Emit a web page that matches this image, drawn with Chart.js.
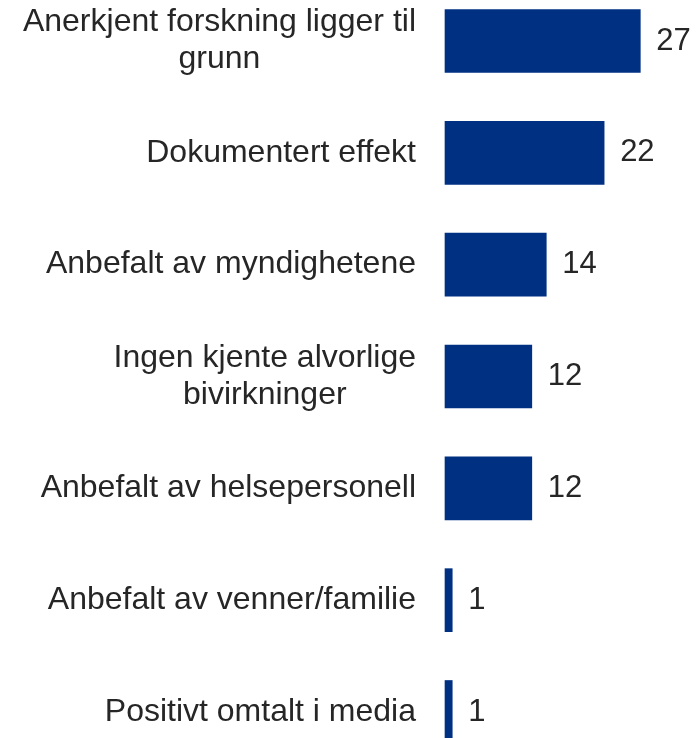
<!DOCTYPE html>
<html>
<head>
<meta charset="utf-8">
<script src="https://cdn.jsdelivr.net/npm/chart.js@4"></script>
<style>
  html, body { margin: 0; padding: 0; background: #fff; }
  #wrap { width: 700px; height: 738px; }
</style>
</head>
<body>
<div id="wrap"><canvas id="canvas"></canvas></div>
<script>
// data
const labels = [
  ["Anerkjent forskning ligger til", "grunn"],
  ["Dokumentert effekt"],
  ["Anbefalt av myndighetene"],
  ["Ingen kjente alvorlige", "bivirkninger"],
  ["Anbefalt av helsepersonell"],
  ["Anbefalt av venner/familie"],
  ["Positivt omtalt i media"],
];
const values = [27, 22, 14, 12, 12, 1, 1];

const FONT = "'Liberation Sans', Arial, sans-serif";
const TEXT = "#262626";

// draws category labels (right aligned block, centered lines) and value labels
const labelPlugin = {
  id: "labelPlugin",
  afterDatasetsDraw(chart) {
    const ctx = chart.ctx;
    const yScale = chart.scales.y;
    const meta = chart.getDatasetMeta(0);
    const right = chart.chartArea.left - 29;
    const lineH = 37;
    ctx.save();
    ctx.font = "32px " + FONT;
    ctx.fillStyle = TEXT;
    ctx.textBaseline = "middle";
    labels.forEach((lines, i) => {
      const y = yScale.getPixelForValue(i);
      const widest = Math.max(...lines.map((l) => ctx.measureText(l).width));
      const cx = right - widest / 2;
      ctx.textAlign = "center";
      const y0 = y - ((lines.length - 1) * lineH) / 2;
      lines.forEach((l, j) => ctx.fillText(l, cx, y0 + j * lineH));
    });
    ctx.font = "31px " + FONT;
    ctx.textAlign = "left";
    meta.data.forEach((bar, i) => {
      ctx.fillText(String(values[i]), bar.x + 16, bar.y);
    });
    ctx.restore();
  },
};

// config
const config = {
  type: "bar",
  data: {
    labels: labels.map((l) => l.join(" ")),
    datasets: [
      {
        data: values,
        backgroundColor: "#003082",
        barThickness: 63,
        clip: false,
      },
    ],
  },
  options: {
    indexAxis: "y",
    responsive: true,
    maintainAspectRatio: false,
    animation: false,
    layout: { padding: { left: 445, right: 38, top: 41, bottom: 26 } },
    plugins: { legend: { display: false }, tooltip: { enabled: false } },
    scales: {
      x: {
        min: 0,
        max: 30,
        display: false,
      },
      y: {
        offset: false,
        display: false,
      },
    },
  },
  plugins: [labelPlugin],
};

// render init block
const myChart = new Chart(document.getElementById("canvas"), config);
</script>
</body>
</html>
